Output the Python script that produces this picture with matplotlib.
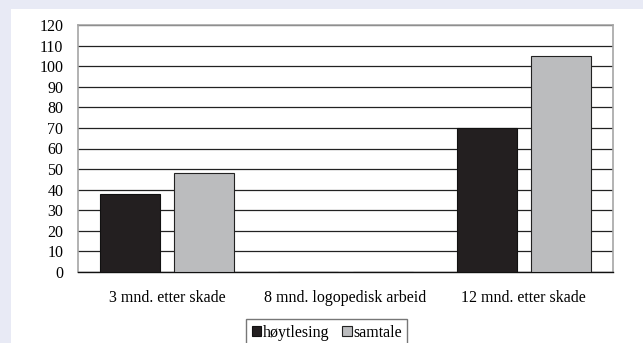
import matplotlib.pyplot as plt
from matplotlib.patches import Rectangle
import numpy as np

plt.rcParams['font.family'] = ['Liberation Serif', 'DejaVu Serif']

categories = ["3 mnd. etter skade", "8 mnd. logopedisk arbeid", "12 mnd. etter skade"]
hoytlesing = [38, 0, 70]
samtale = [48, 0, 105]
series_names = ["høytlesing", "samtale"]
yticks = list(range(0, 121, 10))

fig = plt.figure(figsize=(6.43, 3.43), dpi=100, facecolor='#e8eaf5')
# white panel behind the chart
fig.patches.append(Rectangle((11 / 643, 0), 1 - 11 / 643, (343 - 9) / 343,
                             transform=fig.transFigure, facecolor='white',
                             edgecolor='none', zorder=-10))

ax = fig.add_axes([78 / 643, 1 - 272 / 343, (613 - 78) / 643, (272 - 25) / 343])
ax.set_zorder(5)
ax.set_facecolor('white')

x = np.arange(len(categories))
w = 0.336
off = 0.209
ax.bar(x - off, hoytlesing, w, color='#231f20', edgecolor='#111111', linewidth=0.8,
       label=series_names[0], zorder=3)
ax.bar(x + off, samtale, w, color='#bbbcbe', edgecolor='#222222', linewidth=0.8,
       label=series_names[1], zorder=3)

ax.set_xlim(-0.5, 2.5)
ax.set_ylim(0, 120)
ax.set_yticks(yticks)
ax.set_xticks(x)
ax.set_xticklabels(categories)
ax.tick_params(axis='both', length=0, labelsize=11.5)
ax.tick_params(axis='y', pad=10.5)
ax.tick_params(axis='x', pad=13)
ax.yaxis.grid(True, color='#222222', linewidth=0.9)
ax.set_axisbelow(True)

for s in ['left', 'top', 'right']:
    ax.spines[s].set_color('#a6a6a6')
    ax.spines[s].set_linewidth(1.2)
ax.spines['bottom'].set_color('#111111')
ax.spines['bottom'].set_linewidth(1)

leg = fig.legend(loc='upper left', bbox_to_anchor=(246 / 643, 1 - 319 / 343),
                 ncol=2, frameon=True, fancybox=False, fontsize=11.5,
                 handlelength=0.6, handleheight=0.6, handletextpad=0.1,
                 columnspacing=0.8, borderpad=0.35, borderaxespad=0)
leg.get_frame().set_edgecolor('#555555')
leg.get_frame().set_linewidth(1)

fig.savefig('out.png', dpi=100, facecolor=fig.get_facecolor())
